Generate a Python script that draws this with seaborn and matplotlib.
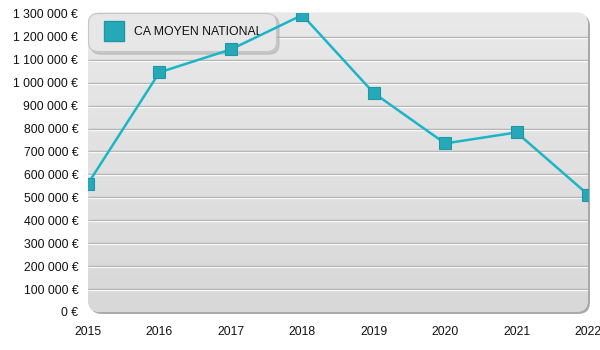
import numpy as np
import pandas as pd
import seaborn as sns
import matplotlib
matplotlib.use("Agg")
import matplotlib.pyplot as plt
from matplotlib.patches import FancyBboxPatch
from matplotlib.transforms import IdentityTransform, offset_copy
from matplotlib.lines import Line2D
from matplotlib.colors import LinearSegmentedColormap

# ---- data ----
years = [2015, 2016, 2017, 2018, 2019, 2020, 2021, 2022]
values = [560000, 1045000, 1145000, 1295000, 955000, 735000, 783000, 512000]
y_ticks = list(range(0, 1300001, 100000))
series_label = "CA MOYEN NATIONAL"

sns.set_theme(style="white")
plt.rcParams["font.family"] = ["Liberation Sans", "DejaVu Sans"]

W, H = 600, 350
fig = plt.figure(figsize=(6, 3.5), dpi=100)
L, R, T, B = 88, 588, 12.5, 312  # pixel edges (from top)
ax = fig.add_axes([L / W, 1 - B / H, (R - L) / W, (B - T) / H])
ax.patch.set_alpha(0)
for s in ax.spines.values():
    s.set_visible(False)

# rounded background panel with shadow (pixel coordinates)
x0, y0, w, h = L, H - B, R - L, B - T
shadow = FancyBboxPatch((x0 + 2, y0 - 2), w, h,
                        boxstyle="round,pad=0,rounding_size=12",
                        transform=IdentityTransform(), fc="#a9a9a9", ec="none",
                        zorder=-2)
fig.add_artist(shadow)
bg = FancyBboxPatch((x0, y0), w, h, boxstyle="round,pad=0,rounding_size=12",
                    transform=IdentityTransform(), fc="#e0e0e0", ec="none",
                    zorder=-1)
fig.add_artist(bg)

ytop = 1306000
cmap = LinearSegmentedColormap.from_list("bg", ["#e9e9e9", "#d8d8d8"])
grad = np.linspace(0, 1, 256).reshape(-1, 1)
im = ax.imshow(grad, cmap=cmap, extent=(years[0], years[-1], 0, ytop),
               aspect="auto", origin="upper", zorder=0, interpolation="bilinear")
im.set_clip_path(bg)

# embossed grid lines
ytr = ax.get_yaxis_transform()
ytr_off = offset_copy(ytr, fig=fig, y=-1, units="dots")
for v in y_ticks[1:-1]:
    ax.plot([0, 1], [v, v], transform=ytr, color="#a8a8a8", lw=1, zorder=1,
            solid_capstyle="butt")
    ax.plot([0, 1], [v, v], transform=ytr_off, color="#f7f7f7", lw=1, zorder=1,
            solid_capstyle="butt")

df = pd.DataFrame({"year": years, "value": values})
sns.lineplot(data=df, x="year", y="value", ax=ax, color="#1cb5c7", lw=1.8,
             marker="s", markersize=8, markerfacecolor="#25a8b7",
             markeredgecolor="#1e98a6", markeredgewidth=0.8, zorder=3)

ax.set_xlim(years[0], years[-1])
ax.set_ylim(0, ytop)
ax.set_xticks(years)
ax.set_xticklabels([str(y) for y in years])
ax.set_yticks(y_ticks)
ax.set_yticklabels([f"{v:,} €".replace(",", " ") for v in y_ticks])
ax.set_xlabel("")
ax.set_ylabel("")
ax.tick_params(axis="both", length=0, labelsize=8.8, colors="#111111")
ax.tick_params(axis="y", pad=7)
ax.tick_params(axis="x", pad=10)

handle = Line2D([], [], marker="s", ls="none", markersize=14,
                markerfacecolor="#25a8b7", markeredgecolor="#1e98a6")
leg = ax.legend([handle], [series_label], loc="upper left",
                bbox_to_anchor=(0, 1), borderaxespad=0, frameon=True,
                fancybox=True, framealpha=1, fontsize=8.8,
                borderpad=1.1, handlelength=2.1, handletextpad=0.6,
                shadow={"color": "#a0a0a0", "alpha": 0.45})
frame = leg.get_frame()
frame.set_facecolor("#e7e7e7")
frame.set_edgecolor("#c6c6c6")
frame.set_linewidth(0.8)
frame.set_boxstyle("round", pad=0, rounding_size=0.8)
leg.set_zorder(2)
for t in leg.get_texts():
    t.set_color("#111111")

fig.savefig("out.png", dpi=100)
